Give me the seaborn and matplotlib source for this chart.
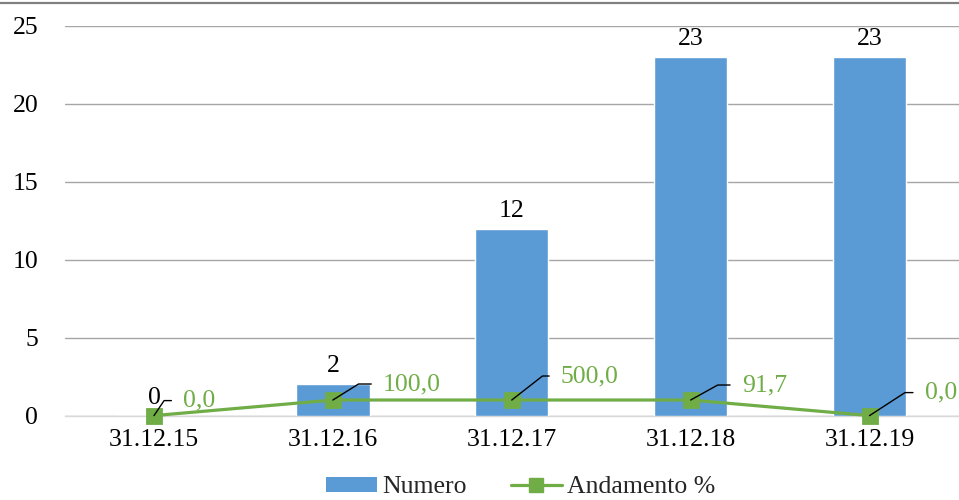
import numpy as np
import pandas as pd
import matplotlib
matplotlib.use("Agg")
import matplotlib.pyplot as plt
from matplotlib.lines import Line2D
from matplotlib.patches import Patch
import seaborn as sns

# Data
dates = ["31.12.15", "31.12.16", "31.12.17", "31.12.18", "31.12.19"]
numero = [0, 2, 12, 23, 23]
andamento_labels = ["0,0", "100,0", "500,0", "91,7", "0,0"]
andamento_level = [0, 1, 1, 1, 0]

BAR = "#5B9BD5"
GREEN = "#70AD47"
FS = 18.5

sns.set_theme(style="white")
plt.rcParams["font.family"] = ["Liberation Serif", "DejaVu Serif"]

fig = plt.figure(figsize=(9.59, 5.0), dpi=100)
ax = fig.add_axes([0.0673, 0.1688, 0.9327, 0.948 - 0.1688])

df = pd.DataFrame({"date": dates, "numero": numero, "level": andamento_level})

sns.barplot(data=df, x="date", y="numero", color=BAR, saturation=1,
            width=0.41, ax=ax, zorder=2)
sns.pointplot(data=df, x="date", y="level", color=GREEN, markers="s",
              linestyles="-", ax=ax, zorder=4)
for ln in ax.lines:
    ln.set_linewidth(2.3)
    ln.set_markersize(10)
    ln.set_zorder(4)
    ln.set_clip_on(False)
for coll in ax.collections:
    coll.set_zorder(5)
    coll.set_clip_on(False)

ax.set_ylim(0, 25)
ax.set_xlim(-0.5, 4.5)
ax.set_yticks([0, 5, 10, 15, 20, 25])
ax.yaxis.grid(True, color="#A6A6A6", linewidth=1.0, zorder=0)
ax.set_axisbelow(True)
ax.set_xlabel("")
ax.set_ylabel("")
for s in ["top", "right", "left"]:
    ax.spines[s].set_visible(False)
ax.spines["bottom"].set_color("#D9D9D9")
ax.spines["bottom"].set_linewidth(1.0)
ax.spines["bottom"].set_zorder(1)
ax.tick_params(axis="both", length=0, labelsize=FS, colors="black")
ax.tick_params(axis="y", pad=19)
ax.tick_params(axis="x", pad=9.5)

# value labels above the bars
for i, v in enumerate(numero):
    ax.annotate(str(v), (i, v), xytext=(0, 7), textcoords="offset pixels",
                ha="center", va="bottom", fontsize=FS, color="black")

# percentage labels with leader lines
offsets = [(29, 15), (50, 16), (49, 24), (51, 15), (55, 23)]
angles = [56, 32, 38, 29, 33]
for i, (lab, lv) in enumerate(zip(andamento_labels, andamento_level)):
    dx, dy = offsets[i]
    ax.annotate(lab, (i, lv), xytext=(dx, dy), textcoords="offset pixels",
                ha="left", va="center", fontsize=FS, color=GREEN, zorder=6,
                arrowprops=dict(arrowstyle="-", color="black", lw=1.0,
                                connectionstyle=f"angle,angleA=0,angleB={angles[i]},rad=0",
                                relpos=(0, 0.5), shrinkA=6, shrinkB=0))

# legend
handles = [Patch(facecolor=BAR, edgecolor="none"),
           Line2D([], [], color=GREEN, lw=2.3, marker="s", markersize=10)]
fig.legend(handles, ["Numero", "Andamento %"], loc="lower center",
           bbox_to_anchor=(0.543, -0.043), ncol=2, frameon=False, fontsize=FS,
           handlelength=2.0, handleheight=0.5, columnspacing=1.7,
           handletextpad=0.2)

# chart area top border
fig.add_artist(Line2D([0, 1], [1 - 2.5 / 500, 1 - 2.5 / 500],
                      transform=fig.transFigure, color="#808080", lw=1.6))

fig.savefig("out.png", dpi=100)
